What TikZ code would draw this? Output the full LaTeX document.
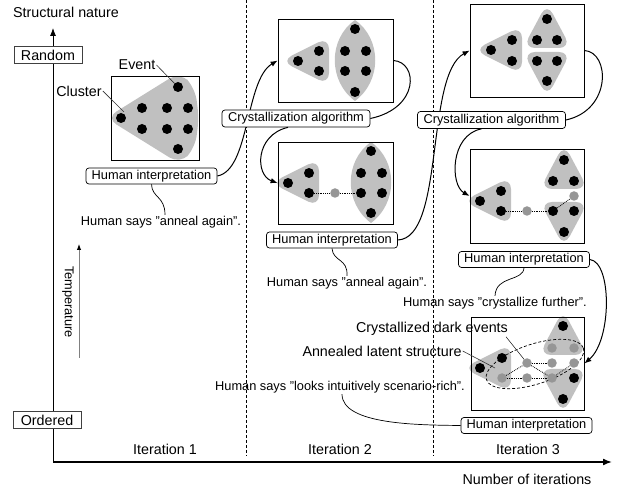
\documentclass[tikz,border=0pt]{standalone}
\usepackage{fontspec}
\setmainfont{Liberation Sans}
\usetikzlibrary{arrows.meta}
\definecolor{blobc}{RGB}{192,192,192}
\definecolor{gdotc}{RGB}{150,150,150}
\newcommand{\bigf}{\fontsize{14.3}{16}\selectfont}
\newcommand{\smallf}{\fontsize{12.8}{14}\selectfont}
\newcommand{\lblob}[2]{\fill[blobc, rounded corners=12pt] (#1-17,#2) -- (#1+31,#2-24) -- (#1+31,#2+24) -- cycle;}
\newcommand{\ublob}[2]{\fill[blobc, rounded corners=12pt] (#1,#2-16) -- (#1+24,#2+29) -- (#1-24,#2+29) -- cycle;}
\newcommand{\dblob}[2]{\fill[blobc, rounded corners=12pt] (#1-24,#2-9) -- (#1+24,#2-9) -- (#1,#2+36) -- cycle;}
\newcommand{\lensblob}[2]{\fill[blobc] (#1,#2-9) .. controls (#1-27,#2+10) and (#1-27,#2+52) .. (#1,#2+72) .. controls (#1+27,#2+52) and (#1+27,#2+10) .. cycle;}
\begin{document}
\begin{tikzpicture}[x=1pt,y=-1pt,
  mydot/.style={circle,fill=black,inner sep=0pt,minimum size=10pt},
  mygdot/.style={circle,fill=gdotc,inner sep=0pt,minimum size=9.5pt},
  figbox/.style={draw=black,line width=0.8pt,inner sep=0pt},
  hbox/.style={draw=black,line width=0.7pt,rounded corners=3pt,fill=white,font=\smallf,inner sep=0pt,minimum width=131pt,minimum height=16pt},
  cbox/.style={hbox,minimum width=148pt,minimum height=17pt},
  axbox/.style={draw=black!75,line width=0.8pt,fill=white,font=\bigf,inner sep=0pt,minimum width=68pt,minimum height=17pt},
  bigt/.style={font=\bigf,inner sep=1pt},
  smallt/.style={font=\smallf,inner sep=1pt},
  conn/.style={line width=1pt},
  wavy/.style={line width=0.7pt},
  arr/.style={conn,-{Latex[length=7pt,width=5.5pt]}},
  lnk/.style={densely dotted,line width=0.8pt},
  lbl/.style={line width=0.6pt,black!80},
  dsh/.style={line width=0.7pt,dash pattern=on 3pt off 2pt},
]
\useasboundingbox (0,0) rectangle (622,489);

% ---------- axes ----------
\coordinate (O) at (53,462);
\coordinate (Ytop) at (53,28);
\coordinate (Xend) at (612,462);
\draw[line width=0.8pt,-{Latex[length=8pt,width=6pt]}] (O) -- (Ytop);
\draw[line width=1.5pt,-{Latex[length=9pt,width=7pt]}] (O) -- (Xend);
\node[bigt] (sn) at (66,12) {Structural nature};
\node[axbox] (rnd) at (48,55) {Random};
\node[axbox] (ord) at (47,420) {Ordered};
\coordinate (tb) at (79,358);
\coordinate (tt) at (79,244);
\draw[gray,line width=1pt,-{Latex[length=6pt,width=4.5pt,color=black]}] (tb) -- (tt);
\node[smallt,rotate=-90] (tmp) at (68,302) {Temperature};
\node[bigt] (it1) at (165,449) {Iteration 1};
\node[bigt] (it2) at (340,449) {Iteration 2};
\node[bigt] (it3) at (528,449) {Iteration 3};
\node[bigt] (noi) at (527,479) {Number of iterations};

% ---------- dashed separators ----------
\coordinate (s1t) at (246,0);
\coordinate (s1b) at (246,456);
\coordinate (s2t) at (433,0);
\coordinate (s2b) at (433,456);
\draw[dsh] (s1t) -- (s1b);
\draw[dsh] (s2t) -- (s2b);

% ---------- iteration 1 ----------
\fill[blobc, rounded corners=12pt] (106,118) -- (180,72) -- (195,88) -- (199,118) -- (195,148) -- (180,164) -- cycle;
\node[mydot] (a1) at (121,118) {};
\node[mydot] (a2) at (142,108) {};
\node[mydot] (a3) at (167,108) {};
\node[mydot] (a4) at (188,108) {};
\node[mydot] (a5) at (142,129) {};
\node[mydot] (a6) at (167,129) {};
\node[mydot] (a7) at (188,129) {};
\node[mydot] (a8) at (178,87) {};
\node[mydot] (a9) at (178,149) {};
\node[figbox,minimum width=88pt,minimum height=84pt] (b1) at (155,118) {};
\node[bigt] (evl) at (137,65) {Event};
\node[bigt] (cll) at (79,91) {Cluster};
\coordinate (clp) at (124,112);
\draw[lbl] (evl.east) -- (a8);
\draw[lbl] (cll.east) -- (clp);

% ---------- iteration 2, top ----------
\lblob{298}{61}
\lensblob{355}{29}
\node[mydot] (p1) at (298,61) {};
\node[mydot] (p2) at (319,51) {};
\node[mydot] (p3) at (319,71) {};
\node[mydot] (p4) at (355,29) {};
\node[mydot] (p5) at (345,51) {};
\node[mydot] (p6) at (366,51) {};
\node[mydot] (p7) at (345,71) {};
\node[mydot] (p8) at (366,71) {};
\node[mydot] (p9) at (355,92) {};
\node[figbox,minimum width=115pt,minimum height=83pt] (b2a) at (335.5,60.5) {};

% ---------- iteration 2, bottom ----------
\lblob{288}{183}
\lensblob{371}{151}
\node[mydot] (q1) at (288,183) {};
\node[mydot] (q2) at (309,173) {};
\node[mydot] (q3) at (309,193) {};
\node[mydot] (q4) at (371,151) {};
\node[mydot] (q5) at (361,173) {};
\node[mydot] (q6) at (382,173) {};
\node[mydot] (q7) at (361,193) {};
\node[mydot] (q8) at (382,193) {};
\node[mydot] (q9) at (371,213) {};
\node[mygdot] (qg) at (335,193) {};
\draw[lnk] (q3) -- (qg);
\draw[lnk] (qg) -- (q7);
\node[figbox,minimum width=115pt,minimum height=82pt] (b2b) at (335.5,183) {};

% ---------- iteration 3, top ----------
\lblob{491}{50}
\ublob{547}{19}
\dblob{547}{61}
\node[mydot] (r1) at (491,50) {};
\node[mydot] (r2) at (512,40) {};
\node[mydot] (r3) at (512,61) {};
\node[mydot] (r4) at (547,19) {};
\node[mydot] (r5) at (537,40) {};
\node[mydot] (r6) at (557,40) {};
\node[mydot] (r7) at (537,61) {};
\node[mydot] (r8) at (557,61) {};
\node[mydot] (r9) at (547,81) {};
\node[figbox,minimum width=114pt,minimum height=93pt] (b3a) at (527,50.5) {};

% ---------- iteration 3, middle ----------
\lblob{480}{201}
\ublob{564}{160}
\dblob{564}{211}
\node[mydot] (m1) at (480,201) {};
\node[mydot] (m2) at (501,191) {};
\node[mydot] (m3) at (501,211) {};
\node[mydot] (m4) at (564,160) {};
\node[mydot] (m5) at (553,181) {};
\node[mydot] (m6) at (574,181) {};
\node[mydot] (m7) at (553,211) {};
\node[mydot] (m8) at (574,211) {};
\node[mydot] (m9) at (564,232) {};
\node[mygdot] (mg1) at (527,211) {};
\node[mygdot] (mg2) at (574,196) {};
\draw[lnk] (m3) -- (mg1);
\draw[lnk] (mg1) -- (m7);
\draw[lnk] (m7) -- (mg2);
\node[figbox,minimum width=114pt,minimum height=94pt] (b3b) at (527,196) {};

% ---------- iteration 3, bottom ----------
\lblob{480}{368}
\ublob{563}{326}
\dblob{563}{378}
\draw[dsh,rotate around={18:(535,364)}] (535,364) ellipse (51 and 20);
\node[mygdot] (g1) at (502,378) {};
\node[mygdot] (g2) at (527,363) {};
\node[mygdot] (g3) at (527,378) {};
\node[mygdot] (g4) at (552,348) {};
\node[mygdot] (g5) at (574,348) {};
\node[mygdot] (g6) at (552,363) {};
\node[mygdot] (g7) at (574,363) {};
\node[mygdot] (g8) at (552,378) {};
\draw[lnk] (g1) -- (g2);
\draw[lnk] (g1) -- (g3);
\draw[lnk] (g3) -- (g8);
\draw[lnk] (g2) -- (g8);
\draw[lnk] (g2) -- (g6);
\draw[lnk] (g8) -- (g7);
\node[mydot] (k1) at (480,368) {};
\node[mydot] (k2) at (502,358) {};
\node[mydot] (k3) at (563,326) {};
\node[mydot] (k4) at (574,378) {};
\node[mydot] (k5) at (563,399) {};
\node[figbox,minimum width=113pt,minimum height=93pt] (b3c) at (527.5,363.5) {};
\node[bigt] (dkl) at (432,329) {Crystallized dark events};
\node[bigt] (anl) at (382,351) {Annealed latent structure};
\coordinate (anp) at (495,368);
\draw[lbl] ([xshift=-3pt]dkl.south east) -- (g2);
\draw[lbl] (anl.east) -- (anp);

% ---------- flow ----------
\node[hbox] (hi1) at (151.5,176) {Human interpretation};
\draw[arr] (hi1.east) .. controls (250,170) and (245,80) .. (b2a.west);
\node[cbox] (cr2) at (296,118.5) {Crystallization algorithm};
\draw[conn] (b2a.east) .. controls (418,62) and (420,108) .. (cr2.east);
\draw[arr] ([xshift=-8pt]cr2.south) .. controls (255,135) and (255,175) .. (b2b.west);

\node[hbox] (hi2) at (332,240) {Human interpretation};
\draw[arr] (hi2.east) .. controls (445,238) and (425,75) .. (b3a.west);
\node[cbox] (cr3) at (491.5,120) {Crystallization algorithm};
\draw[conn] (b3a.east) .. controls (610,52) and (612,110) .. (cr3.east);
\draw[arr] ([xshift=-10pt]cr3.south) .. controls (450,135) and (450,185) .. (b3b.west);

\node[hbox] (hi3) at (524,259.5) {Human interpretation};
\draw[arr] (hi3.east) .. controls (612,262) and (612,340) .. (b3c.east);
\node[hbox] (hi4) at (526.5,425.5) {Human interpretation};

\node[smallt] (say1) at (161,222) {Human says "anneal again".};
\node[smallt] (say2) at (347,283) {Human says "anneal again".};
\node[smallt] (say3) at (495,303) {Human says "crystallize further".};
\node[smallt] (say4) at (340,387) {Human says "looks intuitively scenario-rich".};
\draw[wavy] (hi1.south) .. controls (152,198) and (165,196) .. ([xshift=4pt]say1.north);
\draw[wavy] (hi2.south) .. controls (333,262) and (348,258) .. (say2.north);
\draw[wavy] (hi3.south) .. controls (523,282) and (496,275) .. (say3.north);
\draw[wavy] ([xshift=2pt]say4.south) .. controls (342,425) and (420,425) .. (hi4.west);
\end{tikzpicture}
\end{document}
